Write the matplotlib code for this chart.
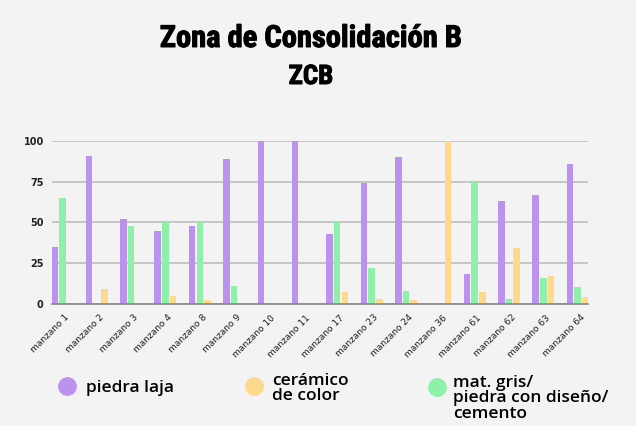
import matplotlib
matplotlib.use("Agg")
import matplotlib.pyplot as plt
import matplotlib.transforms as mtransforms
import matplotlib.patheffects as pe
from matplotlib import font_manager
from matplotlib.lines import Line2D
import numpy as np

# --- DATA --------------------------- #
manzanos = ["manzano 1", "manzano 2", "manzano 3", "manzano 4", "manzano 8",
            "manzano 9", "manzano 10", "manzano 11", "manzano 17", "manzano 23",
            "manzano 24", "manzano 36", "manzano 61", "manzano 62", "manzano 63",
            "manzano 64"]
piedra_laja = [35, 91, 52, 45, 48, 89, 100, 100, 43, 74, 90, 0, 18, 63, 67, 86]
mat_gris = [65, 0, 48, 50, 50, 11, 0, 0, 50, 22, 8, 0, 75, 3, 16, 10]
ceramico = [0, 9, 0, 5, 2, 0, 0, 0, 7, 3, 2, 100, 7, 34, 17, 4]
y_ticks = [0, 25, 50, 75, 100]
legend_labels = ["piedra laja", "cerámico\nde color", "mat. gris/\npiedra con diseño/\ncemento"]
# ------------------------------------ #

purple = "#bb93ee"
green = "#8ff0a9"
yellow = "#fed98b"
bg = "#f3f3f3"


def pick_title_font():
    # look for a narrow heavy face, otherwise plain bold
    for fam, stretch in [("Roboto Condensed", "normal"), ("Liberation Sans Narrow", "normal"),
                         ("Open Sans Condensed", "normal"), ("DejaVu Sans", "condensed"),
                         ("Roboto", "condensed"), ("Open Sans", "condensed")]:
        fp = font_manager.FontProperties(family=fam, stretch=stretch, weight="bold")
        try:
            path = font_manager.findfont(fp, fallback_to_default=False)
        except ValueError:
            continue
        name = path.lower()
        if "condensed" in name or "narrow" in name:
            return font_manager.FontProperties(fname=path)
    return font_manager.FontProperties(family="DejaVu Sans", weight="bold")


title_fp = pick_title_font()

fig = plt.figure(figsize=(6.36, 4.26), dpi=100, facecolor=bg)
ax = fig.add_axes([0.0818, 0.287, 0.8428, 0.382])
ax.set_facecolor(bg)

x = np.arange(len(manzanos))
w = 0.19
step = 0.224
ax.bar(x - step, piedra_laja, w, color=purple, zorder=3)
ax.bar(x, mat_gris, w, color=green, zorder=3)
ax.bar(x + step, ceramico, w, color=yellow, zorder=3)

ax.set_xlim(-0.30, len(manzanos) - 1 + 0.30)
ax.set_ylim(0, 100)
ax.set_yticks(y_ticks)
ax.set_yticklabels([str(v) for v in y_ticks], fontsize=7, fontweight="bold", color="#222222")
ax.yaxis.grid(True, color="#bdbdbd", lw=1.2, zorder=0)
ax.tick_params(length=0)
ax.tick_params(axis="y", pad=6)
ax.tick_params(axis="x", pad=9)
for s in ["top", "right", "left"]:
    ax.spines[s].set_visible(False)
ax.spines["bottom"].set_color("#888888")
ax.spines["bottom"].set_linewidth(1.2)
ax.spines["bottom"].set_zorder(4)

ax.set_xticks(x)
ax.set_xticklabels(manzanos, rotation=45, ha="right", va="center",
                   rotation_mode="anchor", fontsize=6.5, color="#222222")
# shift labels a little to the right (after tick_params, which resets transforms)
offset = mtransforms.ScaledTranslation(4 / 72, 0, fig.dpi_scale_trans)
for lab in ax.get_xticklabels():
    lab.set_transform(lab.get_transform() + offset)

# --- TITLE -------------------------- #
thick = [pe.withStroke(linewidth=0.7, foreground="black")]
t1 = fig.text(0.489, 1 - 47 / 426, "Zona de Consolidación B", ha="center", va="baseline",
              fontproperties=title_fp, color="black", path_effects=thick)
t1.set_fontsize(24)
fig.canvas.draw()
wpx = t1.get_window_extent(fig.canvas.get_renderer()).width
fs = 24 * 303 / wpx
t1.set_fontsize(fs)
t2 = fig.text(0.489, 1 - 84 / 426, "ZCB", ha="center", va="baseline",
              fontproperties=title_fp, color="black", path_effects=thick)
t2.set_fontsize(fs * 0.88)

# --- LEGEND ------------------------- #
colors = [purple, yellow, green]
marker_x = [67, 254, 437]
marker_y = [386, 386, 387]
text_x = [86, 272, 453]
text_top = [380, 373, 375]
for lab, c, mx, my, tx, ty in zip(legend_labels, colors, marker_x, marker_y, text_x, text_top):
    fig.add_artist(Line2D([mx / 636], [1 - my / 426], marker="o", markersize=12.5,
                          color=c, linestyle="none", transform=fig.transFigure))
    fig.text(tx / 636, 1 - ty / 426, lab, ha="left", va="top", fontsize=12.5,
             family=["Open Sans", "DejaVu Sans"], fontweight="semibold",
             linespacing=0.95, color="black")

fig.savefig("out.png", dpi=100, facecolor=bg)
